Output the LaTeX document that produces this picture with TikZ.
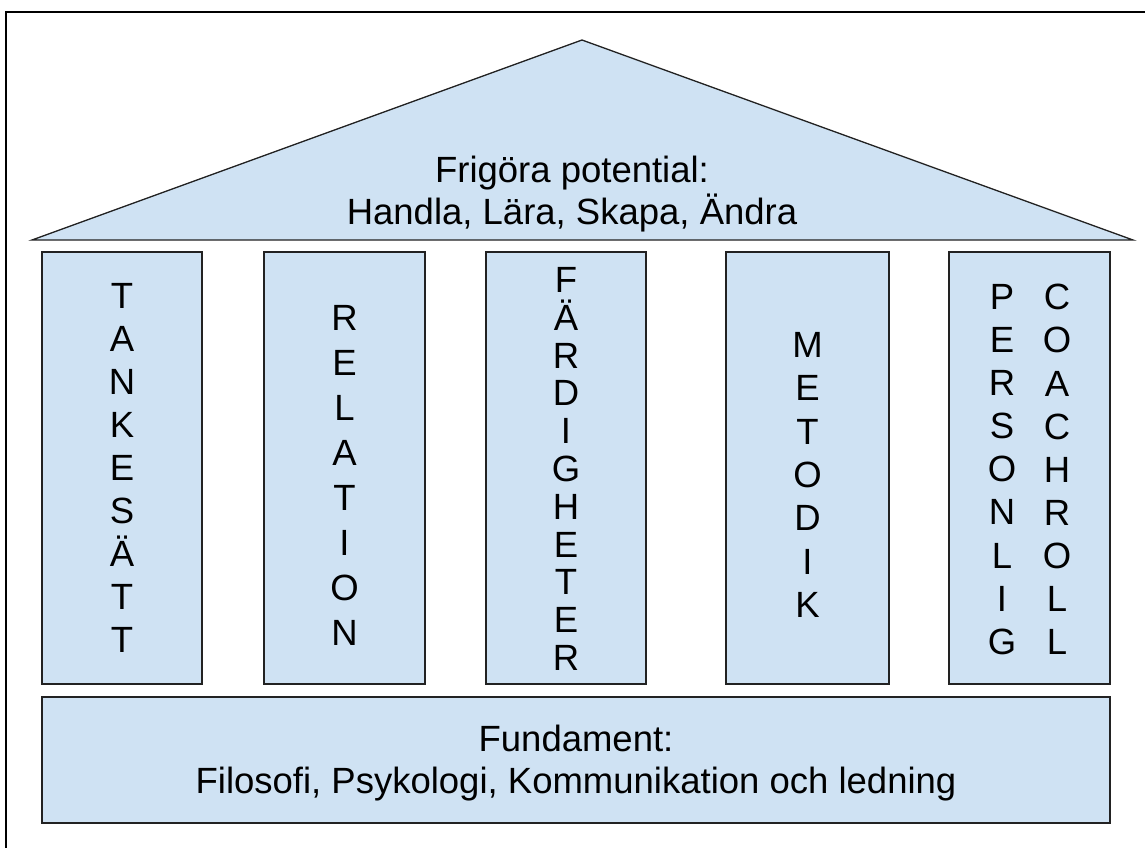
\documentclass[tikz,border=0pt]{standalone}
\usepackage{fontspec}
\setmainfont{Liberation Sans}
\definecolor{fillblue}{HTML}{CFE2F3}
\definecolor{edge}{HTML}{222222}
\begin{document}
\begin{tikzpicture}[x=1pt,y=-1pt,
  box/.style={draw=edge, fill=fillblue, line width=1.3pt, inner sep=0pt},
  lbl/.style={font=\fontsize{36.5}{42}\selectfont, inner sep=0pt, anchor=base},
  col/.style={font=\fontsize{36.5}{#1}\selectfont, align=center, inner sep=0pt}]
\useasboundingbox (0,0) rectangle (1145,848);
% outer frame (left and top edges)
\draw[line width=2pt, black] (6,848) -- (6,12) -- (1145,12);
% roof
\coordinate (rl) at (32,240);
\coordinate (rt) at (582,40);
\coordinate (rr) at (1133,240);
\draw[box, line join=miter] (rl) -- (rt) -- (rr) -- cycle;
\node[lbl] (roof1) at (572,182) {Frigöra potential:};
\node[lbl] (roof2) at (572,224) {Handla, Lära, Skapa, Ändra};
% pillars
\node[box, minimum width=160pt, minimum height=432pt] (p1) at (122,468) {};
\node[box, minimum width=161pt, minimum height=432pt] (p2) at (344.5,468) {};
\node[box, minimum width=160pt, minimum height=432pt] (p3) at (566,468) {};
\node[box, minimum width=163pt, minimum height=432pt] (p4) at (807.5,468) {};
\node[box, minimum width=161pt, minimum height=432pt] (p5) at (1029.5,468) {};
\node[col=43] (t1) at (122,468) {T\\A\\N\\K\\E\\S\\Ä\\T\\T};
\node[col=45] (t2) at (344.5,475) {R\\E\\L\\A\\T\\I\\O\\N};
\node[col=37.8] (t3) at (566,469) {F\\Ä\\R\\D\\I\\G\\H\\E\\T\\E\\R};
\node[col=43.3] (t4) at (807.5,475) {M\\E\\T\\O\\D\\I\\K};
\node[col=43.1] (t5a) at (1002,469.5) {P\\E\\R\\S\\O\\N\\L\\I\\G};
\node[col=43.1] (t5b) at (1057,469.5) {C\\O\\A\\C\\H\\R\\O\\L\\L};
% foundation
\node[box, minimum width=1068pt, minimum height=126pt] (base) at (576,760) {};
\node[lbl] (base1) at (576,751) {Fundament:};
\node[lbl] (base2) at (576,793) {Filosofi, Psykologi, Kommunikation och ledning};
\end{tikzpicture}
\end{document}
